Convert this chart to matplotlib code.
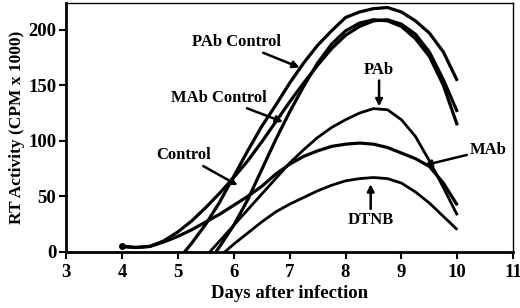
import numpy as np
import matplotlib.pyplot as plt

plt.rcParams['font.family'] = ['Liberation Serif', 'DejaVu Serif']
plt.rcParams['font.weight'] = 'bold'

# values (days after infection, RT activity in CPM x 1000)
days_q = [4, 4.25, 4.5, 4.75, 5, 5.25, 5.5, 5.75, 6, 6.25, 6.5, 6.75, 7,
          7.25, 7.5, 7.75, 8, 8.25, 8.5, 8.75, 9, 9.25, 9.5, 9.75, 10]

control = [5, 4, 5, 10, 18, 28, 40, 53, 67, 82, 99, 117, 135,
           152, 168, 183, 195, 203, 208, 209, 205, 196, 180, 155, 126]
mab = [5, 4, 5, 9, 14, 20, 27, 34, 42, 50, 59, 70, 79,
       86, 91, 95, 97, 98, 97, 94, 89, 84, 77, 62, 42]

pabc_days = [5.12] + days_q[5:]
pab_control = [0, 8, 25, 45, 68, 91, 113, 132, 152,
               170, 186, 199, 211, 216, 219, 220, 216, 208, 197, 180, 154]

mabc_days = [5.68, 5.75] + days_q[8:]
mab_control = [0, 5, 24, 47, 74, 101, 126,
               149, 170, 187, 199, 206, 209, 208, 203, 192, 176, 150, 114]

pab_days = [5.57, 5.75] + days_q[8:]
pab = [0, 10, 24, 38, 52, 66, 80,
       92, 103, 112, 119, 125, 129, 128, 119, 104, 82, 58, 33]

dtnb_days = [5.84] + days_q[8:]
dtnb = [0, 7, 17, 27, 36, 43,
        49, 55, 60, 64, 66, 67, 66, 62, 54, 44, 32, 20]

fig = plt.figure(figsize=(5.2, 3.08), dpi=100)
ax = fig.add_axes([0.127, 0.182, 0.86, 0.808])

lw = 2.3
ax.plot(days_q, control, color='black', lw=lw, solid_capstyle='butt')
ax.plot(days_q, mab, color='black', lw=lw, solid_capstyle='butt')
ax.plot(pabc_days, pab_control, color='black', lw=lw, solid_capstyle='butt')
ax.plot(mabc_days, mab_control, color='black', lw=lw, solid_capstyle='butt')
ax.plot(pab_days, pab, color='black', lw=lw - 0.3, solid_capstyle='butt')
ax.plot(dtnb_days, dtnb, color='black', lw=lw - 0.3, solid_capstyle='butt')
ax.plot([days_q[0]], [control[0]], 'o', color='black', ms=4)

ax.set_xlim(3, 11)
ax.set_ylim(0, 224)
ax.set_xticks(range(3, 12))
ax.set_yticks([0, 50, 100, 150, 200])
ax.tick_params(axis='both', labelsize=13.5, direction='out', length=5, width=1.5)
ax.tick_params(axis='y', pad=2)
ax.set_xlabel('Days after infection', fontsize=13.5, fontweight='bold', labelpad=3)
ax.set_ylabel('RT Activity (CPM x 1000)', fontsize=12.5, fontweight='bold', labelpad=2)
for s in ['left', 'bottom']:
    ax.spines[s].set_linewidth(2)
for s in ['top', 'right']:
    ax.spines[s].set_linewidth(1)

arrow = dict(arrowstyle='-|>', color='black', lw=1.8, mutation_scale=10,
             shrinkA=0, shrinkB=0)
fs = 12
ax.annotate('PAb Control', xy=(7.18, 166), xytext=(6.05, 189), fontsize=fs,
            fontweight='bold', ha='center', va='center', arrowprops=arrow)
ax.annotate('MAb Control', xy=(6.88, 117), xytext=(5.73, 139), fontsize=fs,
            fontweight='bold', ha='center', va='center', arrowprops=arrow)
ax.annotate('Control', xy=(6.07, 60), xytext=(5.11, 87), fontsize=fs,
            fontweight='bold', ha='center', va='center', arrowprops=arrow)
ax.annotate('PAb', xy=(8.6, 131), xytext=(8.6, 164), fontsize=fs,
            fontweight='bold', ha='center', va='center', arrowprops=arrow)
ax.annotate('MAb', xy=(9.41, 78), xytext=(10.55, 92), fontsize=fs,
            fontweight='bold', ha='center', va='center', arrowprops=arrow)
ax.annotate('DTNB', xy=(8.45, 61), xytext=(8.45, 29), fontsize=fs,
            fontweight='bold', ha='center', va='center', arrowprops=arrow)

fig.savefig('out.png', dpi=100)
